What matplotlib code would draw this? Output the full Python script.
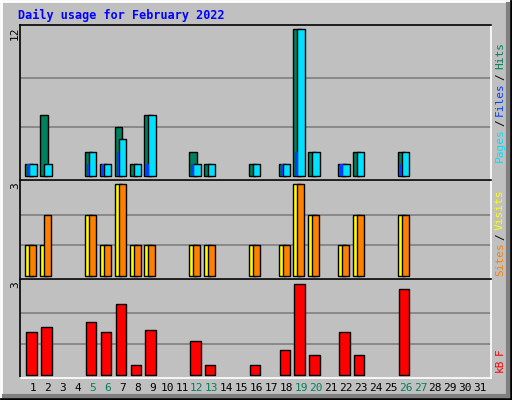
import numpy as np
import matplotlib
matplotlib.use("Agg")
import matplotlib.pyplot as plt
from matplotlib.lines import Line2D

days = np.arange(1, 32)
active = [1, 2, 5, 6, 7, 8, 9, 12, 13, 16, 18, 19, 20, 22, 23, 26]
hits_a = [1, 5, 2, 1, 4, 1, 5, 2, 1, 1, 1, 12, 2, 1, 2, 2]
files_a = [1, 1, 2, 1, 3, 1, 5, 1, 1, 1, 1, 12, 2, 1, 2, 2]
pages_a = [1, 0, 1, 1, 2, 0, 1, 1, 0, 0, 1, 2, 0, 1, 0, 1]
visits_a = [1, 1, 2, 1, 3, 1, 1, 1, 1, 1, 1, 3, 2, 1, 2, 2]
sites_a = [1, 2, 2, 1, 3, 1, 1, 1, 1, 1, 1, 3, 2, 1, 2, 2]
kb_a = [1.37, 1.53, 1.69, 1.37, 2.27, 0.32, 1.44, 1.09, 0.32, 0.32, 0.81,
        2.91, 0.64, 1.37, 0.64, 2.75]
weekends = [5, 6, 12, 13, 19, 20, 26, 27]


def full(vals):
    out = np.zeros(31)
    for d, v in zip(active, vals):
        out[d - 1] = v
    return out


hits, files, pages = full(hits_a), full(files_a), full(pages_a)
visits, sites, kb = full(visits_a), full(sites_a), full(kb_a)

BG = "#C0C0C0"
C_HITS, C_FILES, C_PAGES = "#00805C", "#0040FF", "#00E0FF"
C_VISITS, C_SITES, C_KB = "#FFFF00", "#FF8000", "#FF0000"
W, H = 512, 400
MONO = "DejaVu Sans Mono"

fig = plt.figure(figsize=(W / 100, H / 100), dpi=100, facecolor=BG)


def px_axes(top, bottom):
    return fig.add_axes([20 / W, 1 - bottom / H, (491 - 20) / W, (bottom - top) / H])


def style(ax, ylim, grids):
    ax.set_facecolor(BG)
    ax.set_xlim(0.128, 31.74)
    ax.set_ylim(*ylim)
    for g in grids:
        ax.axhline(g, color="#808080", lw=1.2, zorder=0)
    ax.set_xticks([]); ax.set_yticks([])
    for s in ax.spines.values():
        s.set_color("black"); s.set_linewidth(1.2)
    ax.spines["bottom"].set_color("white")
    ax.spines["right"].set_color("white")


def hide_zero(ax):
    for p in ax.patches:
        if p.get_height() == 0:
            p.set_visible(False)


PX = 1 / 14.9  # one pixel in day units
bk = dict(edgecolor="black", linewidth=1, align="edge", zorder=2)

ax1 = px_axes(25, 180)
style(ax1, (-0.33, 12.35), [4, 8])
ax1.bar(days - 7.7 * PX, hits, width=7.4 * PX, color=C_HITS, **bk)
ax1.bar(days - 3.7 * PX, files, width=7.4 * PX, color=C_PAGES, **bk)
ax1.bar(days - 5.7 * PX, pages, width=2.5 * PX, color=C_FILES, linewidth=0,
        align="edge", zorder=3)
hide_zero(ax1)

ax2 = px_axes(180, 279)
style(ax2, (-0.1, 3.14), [1, 2])
ax2.bar(days - 7.7 * PX, visits, width=7.4 * PX, color=C_VISITS, **bk)
ax2.bar(days - 3.7 * PX, sites, width=7.0 * PX, color=C_SITES, **bk)
hide_zero(ax2)

ax3 = px_axes(279, 378)
style(ax3, (-0.09, 3.07), [1, 2])
ax3.bar(days - 6.7 * PX, kb, width=10.4 * PX, color=C_KB, **bk)
hide_zero(ax3)

# day labels
for d in days:
    ax3.text(d, -0.25, str(d), ha="center", va="top", fontsize=8, family=MONO,
             color="#00805C" if d in weekends else "black", clip_on=False)

# left max labels
for y, t in [(25, "12"), (180, "3"), (279, "3")]:
    fig.text(15 / W, 1 - (y + 2) / H, t, rotation=90, ha="center", va="top",
             fontsize=8, family=MONO)


# right legends (bottom-to-top)
def vlabel(parts, y_bottom):
    y = y_bottom
    for txt, col in parts:
        fig.text(500 / W, 1 - y / H, txt, rotation=90, ha="center", va="bottom",
                 fontsize=8, family=MONO, color=col)
        y -= 6.4 * len(txt) + 4


vlabel([("Pages", C_PAGES), ("/", "black"), ("Files", C_FILES), ("/", "black"),
        ("Hits", C_HITS)], 162)
vlabel([("Sites", C_SITES), ("/", "black"), ("Visits", C_VISITS)], 276)
vlabel([("kB", C_KB), ("F", C_KB)], 372)

fig.text(18 / W, 1 - 15 / H, "Daily usage for February 2022", color="#0000FF",
         fontsize=8.5, fontweight="bold", family=MONO, va="center")


# bevel border
def fl(x0, y0, x1, y1, c, lw=2):
    fig.add_artist(Line2D([x0 / W, x1 / W], [1 - y0 / H, 1 - y1 / H], color=c, lw=lw))


fl(1, 1, 511, 1, "white"); fl(1, 1, 1, 399, "white")
fl(1, 399, 511, 399, "black"); fl(511, 1, 511, 399, "black")
fl(4, 396, 508, 396, "#808080", 3); fl(508, 4, 508, 396, "#808080", 3)

fig.savefig("out.png", dpi=100, facecolor=BG)
